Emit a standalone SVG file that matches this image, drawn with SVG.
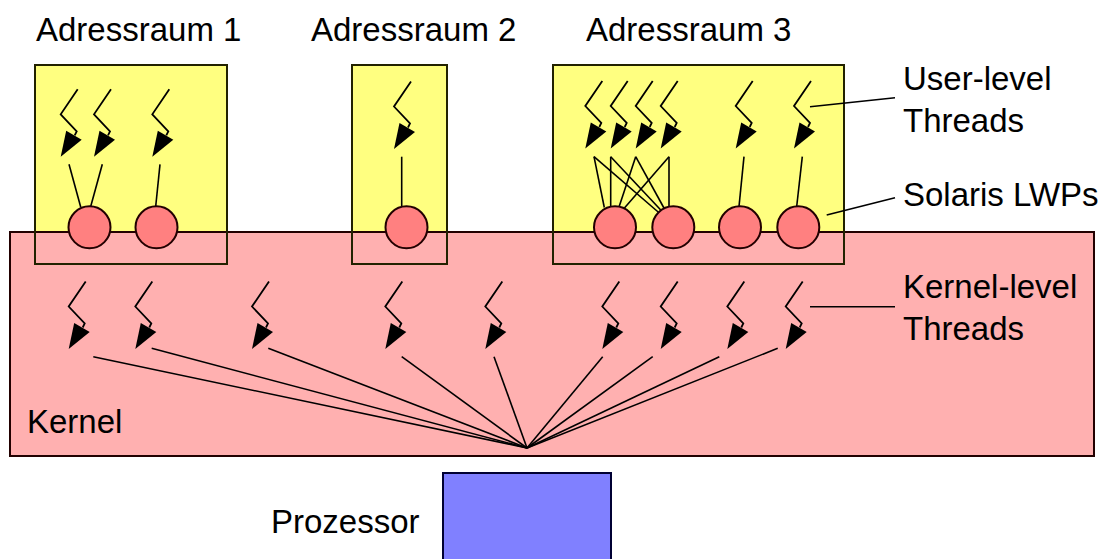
<svg xmlns="http://www.w3.org/2000/svg" xmlns:xlink="http://www.w3.org/1999/xlink" width="1113" height="559" viewBox="0 0 1113 559">
<style>
text{font-family:"Liberation Sans",Arial,sans-serif;font-size:33px;fill:#000}
.space{fill:#FFFF80;stroke:none}
.outline{fill:none;stroke:#222200;stroke-width:2}
.kernel{fill:#FFB0B0;stroke:#220000;stroke-width:2}
.lwp{fill:#FF8080;stroke:#220000;stroke-width:2}
.cpu{fill:#8080FF;stroke:#000033;stroke-width:2}
.ln{stroke:#000;stroke-width:1.6;fill:none}
</style>
<defs>
<g id="thr">
<polyline points="0,0 -17,25 -1,42 -3,46" fill="none" stroke="#000" stroke-width="1.8"/>
<polygon points="-11.5,41.5 4,50.5 -17,67.5" fill="#000"/>
</g>
</defs>
<g id="kernel-bg">
<rect class="space" x="35" y="65" width="192" height="199"/>
<rect class="space" x="352" y="65" width="95" height="199"/>
<rect class="space" x="553" y="65" width="291" height="199"/>
<rect class="kernel" x="10" y="232" width="1084" height="224"/>
</g>
<g id="adressraum1">
<rect class="outline" x="35" y="65" width="192" height="199"/>
<text x="36" y="41">Adressraum 1</text>
</g>
<g id="adressraum2">
<rect class="outline" x="352" y="65" width="95" height="199"/>
<text x="311" y="41">Adressraum 2</text>
</g>
<g id="adressraum3">
<rect class="outline" x="553" y="65" width="291" height="199"/>
<text x="586" y="41">Adressraum 3</text>
</g>
<g id="user-threads">
<use xlink:href="#thr" x="77.7" y="89.3"/>
<use xlink:href="#thr" x="111" y="89.3"/>
<use xlink:href="#thr" x="169.3" y="89.3"/>
<use xlink:href="#thr" x="411" y="81.5"/>
<use xlink:href="#thr" x="602.3" y="81"/>
<use xlink:href="#thr" x="627.7" y="81"/>
<use xlink:href="#thr" x="652.7" y="81"/>
<use xlink:href="#thr" x="677.7" y="81"/>
<use xlink:href="#thr" x="752.7" y="81"/>
<use xlink:href="#thr" x="811" y="81"/>
</g>
<g id="kernel-threads">
<use xlink:href="#thr" x="85.7" y="281.5"/>
<use xlink:href="#thr" x="152.3" y="281.5"/>
<use xlink:href="#thr" x="269" y="281.5"/>
<use xlink:href="#thr" x="402.3" y="281.5"/>
<use xlink:href="#thr" x="502.3" y="281.5"/>
<use xlink:href="#thr" x="619.3" y="281.5"/>
<use xlink:href="#thr" x="677.7" y="281.5"/>
<use xlink:href="#thr" x="744.3" y="281.5"/>
<use xlink:href="#thr" x="802.7" y="281.5"/>
</g>
<g id="connectors">
<line class="ln" x1="69" y1="164.3" x2="80.7" y2="207"/>
<line class="ln" x1="102.3" y1="164.3" x2="90.7" y2="206.5"/>
<line class="ln" x1="160" y1="164.3" x2="155.7" y2="206.5"/>
<line class="ln" x1="401.7" y1="156.7" x2="401.7" y2="206.5"/>
<line class="ln" x1="594" y1="156.7" x2="604.3" y2="207.5"/>
<line class="ln" x1="594" y1="156.7" x2="659.3" y2="213"/>
<line class="ln" x1="610.7" y1="156.7" x2="610.7" y2="206.5"/>
<line class="ln" x1="610.7" y1="156.7" x2="661.7" y2="211"/>
<line class="ln" x1="635.7" y1="156.7" x2="619" y2="207"/>
<line class="ln" x1="635.7" y1="156.7" x2="664.5" y2="209"/>
<line class="ln" x1="669" y1="156.7" x2="624" y2="208.5"/>
<line class="ln" x1="669" y1="156.7" x2="669" y2="206.5"/>
<line class="ln" x1="744" y1="156.7" x2="739" y2="206.5"/>
<line class="ln" x1="802.3" y1="156.7" x2="796.7" y2="206.5"/>
<line class="ln" x1="93.3" y1="356.7" x2="527" y2="448"/>
<line class="ln" x1="151.7" y1="348.3" x2="527" y2="448"/>
<line class="ln" x1="268.3" y1="348.3" x2="527" y2="448"/>
<line class="ln" x1="401.7" y1="356.7" x2="527" y2="448"/>
<line class="ln" x1="494" y1="356.7" x2="527" y2="448"/>
<line class="ln" x1="602.7" y1="356.7" x2="527" y2="448"/>
<line class="ln" x1="652.7" y1="356.7" x2="527" y2="448"/>
<line class="ln" x1="719.3" y1="356.7" x2="527" y2="448"/>
<line class="ln" x1="777.7" y1="348.3" x2="527" y2="448"/>
<line class="ln" x1="810" y1="106.7" x2="895" y2="97.7"/>
<line class="ln" x1="826.7" y1="215" x2="895" y2="197.7"/>
<line class="ln" x1="810" y1="306.7" x2="895" y2="306.7"/>
</g>
<g id="lwps">
<circle class="lwp" cx="89.5" cy="227.3" r="21"/>
<circle class="lwp" cx="156.5" cy="227.3" r="21"/>
<circle class="lwp" cx="406.5" cy="227.3" r="21"/>
<circle class="lwp" cx="615" cy="227.3" r="21"/>
<circle class="lwp" cx="673.3" cy="227.3" r="21"/>
<circle class="lwp" cx="740" cy="227.3" r="21"/>
<circle class="lwp" cx="798.3" cy="227.3" r="21"/>
</g>
<g id="labels">
<text x="903" y="90">User-level</text>
<text x="903" y="131.5">Threads</text>
<text x="903" y="205.5">Solaris LWPs</text>
<text x="903" y="298.3">Kernel-level</text>
<text x="903" y="340">Threads</text>
<text x="27" y="433.3">Kernel</text>
</g>
<g id="prozessor">
<rect class="cpu" x="443" y="473" width="168" height="100"/>
<text x="271" y="533.3">Prozessor</text>
</g>
</svg>
